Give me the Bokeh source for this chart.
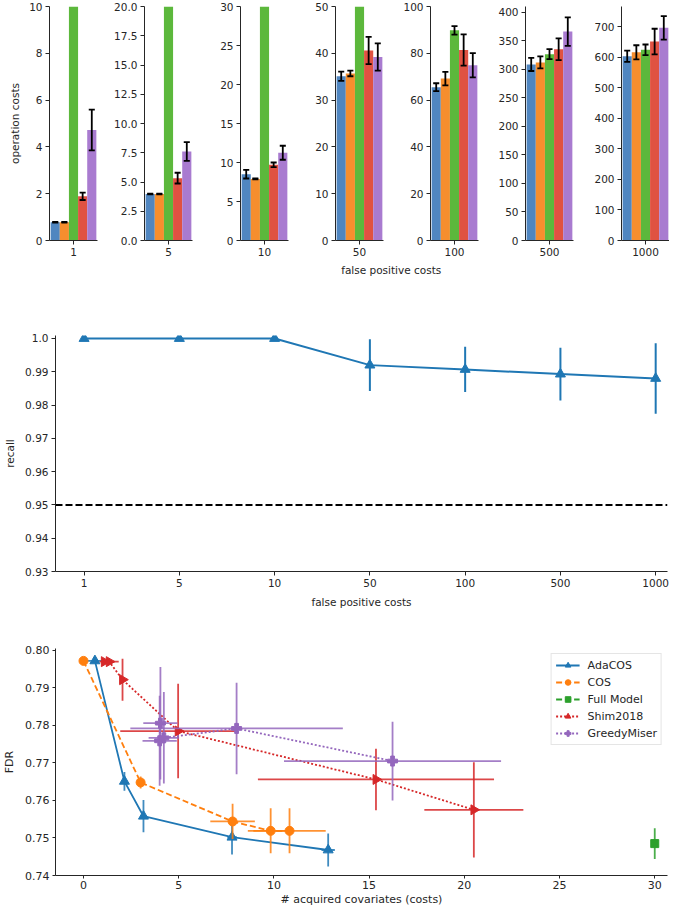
import math
from bokeh.plotting import figure
from bokeh.layouts import column, row
from bokeh.models import Range1d, FixedTicker, Span, Legend, LegendItem, ColumnDataSource
from bokeh.core.properties import value
from bokeh.embed import file_html
from bokeh.resources import INLINE

FONT = "DejaVu Sans"
TXT = "#262626"

# ---------------- data ----------------
fp_labels = ["1", "5", "10", "50", "100", "500", "1000"]
methods = ["AdaCOS", "COS", "Full Model", "Shim2018", "GreedyMiser"]
bar_colors = ["#5086c0", "#f68e2e", "#5cb83c", "#e05242", "#a97bd0"]

cost_fp1 = [0.78, 0.78, 30.6, 1.89, 4.72]
err_fp1 = [0.02, 0.02, 0.3, 0.16, 0.87]
cost_fp5 = [3.97, 3.97, 33.0, 5.33, 7.6]
err_fp5 = [0.03, 0.03, 0.4, 0.46, 0.8]
cost_fp10 = [8.5, 7.9, 36.0, 9.7, 11.25]
err_fp10 = [0.55, 0.06, 0.5, 0.3, 0.9]
cost_fp50 = [35.1, 35.7, 60.0, 40.6, 39.2]
err_fp50 = [1.0, 0.6, 1.0, 2.9, 2.9]
cost_fp100 = [65.5, 69.2, 89.8, 81.4, 74.9]
err_fp100 = [1.7, 2.9, 1.8, 6.7, 5.2]
cost_fp500 = [308.5, 312.0, 326.5, 335.0, 366.0]
err_fp500 = [11.5, 10.5, 8.7, 19.0, 25.0]
cost_fp1000 = [604.0, 617.0, 625.0, 652.0, 697.0]
err_fp1000 = [18.4, 23.0, 17.5, 42.0, 38.5]

costs_all = [cost_fp1, cost_fp5, cost_fp10, cost_fp50, cost_fp100, cost_fp500, cost_fp1000]
errs_all = [err_fp1, err_fp5, err_fp10, err_fp50, err_fp100, err_fp500, err_fp1000]

panel_ymax = [10, 20, 30, 50, 100, 410, 767]
panel_yticks = [
    [0, 2, 4, 6, 8, 10],
    [0, 2.5, 5, 7.5, 10, 12.5, 15, 17.5, 20],
    [0, 5, 10, 15, 20, 25, 30],
    [0, 10, 20, 30, 40, 50],
    [0, 20, 40, 60, 80, 100],
    [0, 50, 100, 150, 200, 250, 300, 350, 400],
    [0, 100, 200, 300, 400, 500, 600, 700],
]

recall = [1.0, 1.0, 1.0, 0.992, 0.9907, 0.9893, 0.988]
recall_err = [0.0, 0.0, 0.0, 0.0078, 0.0068, 0.0079, 0.0106]
recall_target = 0.95
recall_yticks = [0.93, 0.94, 0.95, 0.96, 0.97, 0.98, 0.99, 1.0]

ada_x = [0.6, 2.15, 3.15, 7.8, 12.85]
ada_y = [0.7972, 0.7651, 0.7558, 0.7502, 0.7468]
ada_xerr = [0.4, 0.15, 0.15, 0.25, 0.35]
ada_yerr = [0.0003, 0.0025, 0.0043, 0.0046, 0.0044]

cos_x = [0.0, 3.0, 7.83, 9.83, 10.82]
cos_y = [0.7972, 0.7648, 0.7544, 0.7519, 0.7519]
cos_xerr = [0.15, 0.1, 1.17, 1.2, 1.9]
cos_yerr = [0.0003, 0.0016, 0.0047, 0.006, 0.006]

full_x = [30.0]
full_y = [0.7485]
full_xerr = [0.0]
full_yerr = [0.0041]

shim_x = [1.09, 1.35, 2.05, 4.97, 15.36, 20.5]
shim_y = [0.797, 0.797, 0.7922, 0.7785, 0.7656, 0.7575]
shim_xerr = [0.1, 0.5, 0.1, 3.04, 6.2, 2.6]
shim_yerr = [0.0002, 0.0002, 0.0056, 0.0126, 0.0082, 0.0127]

gm_x = [4.04, 4.0, 4.22, 8.04, 16.23]
gm_y = [0.7806, 0.7759, 0.7767, 0.7792, 0.7705]
gm_xerr = [0.9, 0.9, 0.8, 5.58, 5.7]
gm_yerr = [0.015, 0.012, 0.0122, 0.0122, 0.0105]

fdr_xticks = [0, 5, 10, 15, 20, 25, 30]
fdr_yticks = [0.74, 0.75, 0.76, 0.77, 0.78, 0.79, 0.80]

line_colors = ["#1f77b4", "#ff7f0e", "#2ca02c", "#d62728", "#9467bd"]


def style(p, size="10.5px", label_standoff=2):
    p.outline_line_color = None
    p.grid.visible = False
    p.background_fill_color = "white"
    p.border_fill_color = "white"
    for ax in p.axis:
        ax.axis_line_color = TXT
        ax.axis_line_width = 1
        ax.major_tick_line_color = TXT
        ax.major_tick_out = 4
        ax.major_tick_in = 0
        ax.minor_tick_line_color = None
        ax.major_label_text_font = FONT
        ax.major_label_text_font_size = size
        ax.major_label_text_color = TXT
        ax.major_label_standoff = 3
        ax.axis_label_text_font = FONT
        ax.axis_label_text_font_size = size
        ax.axis_label_text_font_style = "normal"
        ax.axis_label_text_color = TXT
        ax.axis_label_standoff = label_standoff


# ---------------- top row: bar panels ----------------
offsets = [-0.32, -0.16, 0.0, 0.16, 0.32]
bw = 0.16
cap = 0.053
FW = 48
frame_lefts = [49 + round(95.3 * k) for k in range(7)]
starts = [0] + [fl - 41 for fl in frame_lefts[1:]]
ends = starts[1:] + [669]

top_figs = []
for k in range(7):
    w = ends[k] - starts[k]
    lb = frame_lefts[k] - starts[k]
    p = figure(width=w, height=262, output_backend="svg", toolbar_location=None,
               x_range=Range1d(-0.42, 0.42), y_range=Range1d(0, panel_ymax[k]),
               min_border_left=lb, min_border_right=w - lb - FW,
               min_border_top=6, min_border_bottom=22)
    vals = costs_all[k]
    errs = errs_all[k]
    src = ColumnDataSource(dict(
        x=offsets, top=vals, color=bar_colors,
        lo=[v - e for v, e in zip(vals, errs)], hi=[v + e for v, e in zip(vals, errs)],
        xl=[o - cap for o in offsets], xr=[o + cap for o in offsets]))
    p.vbar(x="x", top="top", bottom=0, width=bw, fill_color="color", line_color=None, source=src)
    p.segment(x0="x", y0="lo", x1="x", y1="hi", line_color="black", line_width=1.8, source=src)
    p.segment(x0="xl", y0="hi", x1="xr", y1="hi", line_color="black", line_width=1.8, source=src)
    p.segment(x0="xl", y0="lo", x1="xr", y1="lo", line_color="black", line_width=1.8, source=src)
    style(p, label_standoff=5)
    p.xaxis.ticker = FixedTicker(ticks=[0])
    p.xaxis.major_label_overrides = {0: fp_labels[k]}
    ticks = panel_yticks[k]
    p.yaxis.ticker = FixedTicker(ticks=ticks)
    dec = any(float(t) != int(t) for t in ticks)
    p.yaxis.major_label_overrides = {t: (f"{t:.1f}" if dec else str(int(t))) for t in ticks}
    if k == 0:
        p.yaxis.axis_label = "operation costs"
    top_figs.append(p)

# shared x-axis title of the top row
pl = figure(width=669, height=15, output_backend="svg", toolbar_location=None,
            x_range=Range1d(0, 669), y_range=Range1d(0, 15),
            min_border_left=0, min_border_right=0, min_border_top=0, min_border_bottom=0)
pl.axis.visible = False
pl.grid.visible = False
pl.outline_line_color = None
pl.text(x=[367], y=[7.5], text=["false positive costs"], text_font=value(FONT),
        text_font_size="10.5px", text_color=TXT, text_align="center", text_baseline="middle")

# ---------------- middle: recall ----------------
# frame: x 49..667, y 335..571
pm = figure(width=669, height=359, output_backend="svg", toolbar_location=None,
            x_range=Range1d(-0.3, 6.124), y_range=Range1d(0.93, 1.0009),
            min_border_left=49, min_border_right=2, min_border_top=58, min_border_bottom=65)
xs = list(range(len(fp_labels)))
pm.add_layout(Span(location=recall_target, dimension="width", line_color="black",
                   line_width=2, line_dash="7 3"))
pm.segment(x0=xs, y0=[r - e for r, e in zip(recall, recall_err)], x1=xs,
           y1=[r + e for r, e in zip(recall, recall_err)], line_color=line_colors[0], line_width=2)
pm.line(xs, recall, line_color=line_colors[0], line_width=2)
pm.scatter(xs, recall, marker="triangle", size=10, fill_color=line_colors[0], line_color=line_colors[0])
style(pm, label_standoff=6)
pm.xaxis.ticker = FixedTicker(ticks=xs)
pm.xaxis.major_label_overrides = {i: l for i, l in enumerate(fp_labels)}
pm.yaxis.ticker = FixedTicker(ticks=recall_yticks)
pm.yaxis.major_label_overrides = {t: ("1.0" if t == 1.0 else f"{t:.2f}") for t in recall_yticks}
pm.xaxis.axis_label = "false positive costs"
pm.yaxis.axis_label = "recall"

# ---------------- bottom: FDR vs costs ----------------
# starts at y=636; frame 648..876
pb = figure(width=669, height=272, output_backend="svg", toolbar_location=None,
            x_range=Range1d(-1.47, 30.67), y_range=Range1d(0.74, 0.8005),
            min_border_left=49, min_border_right=2, min_border_top=12, min_border_bottom=32)

series = [
    ("AdaCOS", ada_x, ada_y, ada_xerr, ada_yerr, "solid", "triangle", 10, 0.0),
    ("COS", cos_x, cos_y, cos_xerr, cos_yerr, "6 3", "circle", 9, 0.0),
    ("Full Model", full_x, full_y, full_xerr, full_yerr, "6 3", "square", 8, 0.0),
    ("Shim2018", shim_x, shim_y, shim_xerr, shim_yerr, "2 2", "triangle", 10, -math.pi / 2),
    ("GreedyMiser", gm_x, gm_y, gm_xerr, gm_yerr, "2 2", "plus", 10, 0.0),
]
items = []
for i, (name, x, y, xe, ye, dash, mk, ms, ang) in enumerate(series):
    c = line_colors[i]
    pb.segment(x0=x, y0=[a - b for a, b in zip(y, ye)], x1=x, y1=[a + b for a, b in zip(y, ye)],
               line_color=c, line_width=1.8, line_alpha=0.85)
    pb.segment(x0=[a - b for a, b in zip(x, xe)], y0=y, x1=[a + b for a, b in zip(x, xe)], y1=y,
               line_color=c, line_width=1.8, line_alpha=0.85)
    lr = pb.line(x, y, line_color=c, line_width=1.8, line_dash=dash)
    sr = pb.scatter(x, y, marker=mk, size=ms, angle=ang, fill_color=c, line_color=c)
    items.append(LegendItem(label=name, renderers=[lr, sr]))

style(pb, "11px", label_standoff=6)
for ax in pb.axis:
    ax.major_tick_out = 3
pb.xaxis.axis_label_standoff = 1
pb.xaxis.major_label_standoff = 2
pb.xaxis.ticker = FixedTicker(ticks=fdr_xticks)
pb.xaxis.major_label_overrides = {t: str(t) for t in fdr_xticks}
pb.yaxis.ticker = FixedTicker(ticks=fdr_yticks)
pb.yaxis.major_label_overrides = {t: f"{t:.2f}" for t in fdr_yticks}
pb.xaxis.axis_label = "# acquired covariates (costs)"
pb.yaxis.axis_label = "FDR"

legend = Legend(items=items, location="top_right", margin=5, padding=4, spacing=3,
                glyph_width=24, glyph_height=14, label_height=14, label_standoff=8,
                label_text_font=FONT, label_text_font_size="11px", label_text_color=TXT,
                border_line_color="#cccccc", border_line_width=1, background_fill_alpha=0.8)
pb.add_layout(legend)

layout = column(row(*top_figs, spacing=0), pl, pm, pb, spacing=0)
open("out.html", "w").write(file_html(layout, INLINE))
